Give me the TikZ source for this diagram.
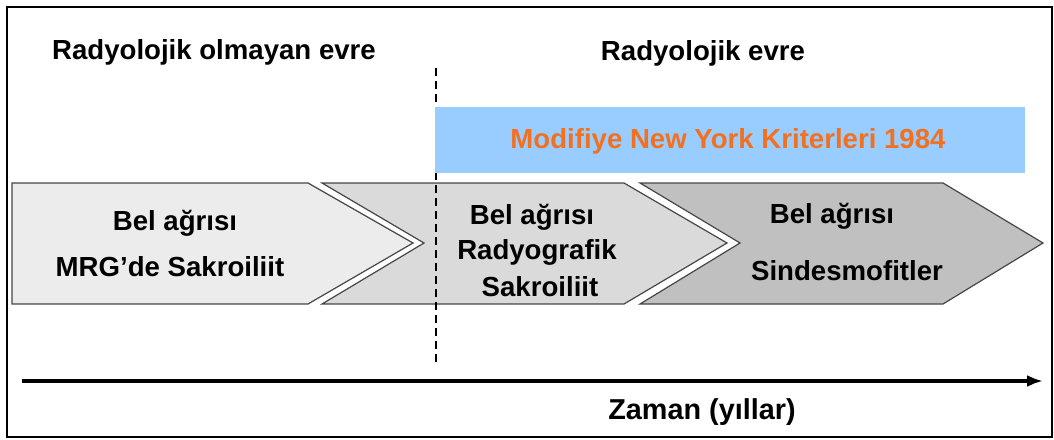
\documentclass[tikz,border=0pt]{standalone}
\usepackage{fontspec}
\setmainfont{Liberation Sans}
\usetikzlibrary{positioning, arrows.meta}
\definecolor{phaseA}{RGB}{236,236,236}
\definecolor{phaseB}{RGB}{218,218,218}
\definecolor{phaseC}{RGB}{192,192,192}
\definecolor{phaseLine}{RGB}{70,70,70}
\definecolor{criteriaBlue}{RGB}{153,204,255}
\definecolor{criteriaOrange}{RGB}{242,113,33}

\begin{document}
\begin{tikzpicture}[x=0.5pt, y=-0.5pt, font=\bfseries\fontsize{13.8}{16}\selectfont]
        % Setup the styles for the phases and the labels
        \tikzset{phase style/.style={draw=phaseLine,
                                     line width=0.6pt,
                                     line join=miter},
                 text style/.style={inner sep=0pt,
                                    anchor=base}}

        \useasboundingbox (0,0) rectangle (1054,439);

        % Frame
        \draw[line width=1.2pt] (7,7) rectangle (1052,437);

        % Draw the phases
        \draw[phase style, fill=phaseA]
            (12,183) -- (308,183) -- (413,243) -- (308,304) -- (12,304) -- cycle;
        \draw[phase style, fill=phaseB]
            (322,183) -- (624,183) -- (727,243) -- (624,304) -- (322,304) -- (424,243) -- cycle;
        \draw[phase style, fill=phaseC]
            (640,183) -- (943,183) -- (1043,243) -- (943,304) -- (640,304) -- (740,243) -- cycle;

        % Border between the two stages
        \coordinate (cut top) at (436,68);
        \coordinate (cut bottom) at (436,363);
        \draw[line width=1pt, dash pattern=on 4pt off 2.5pt] (cut top) -- (cut bottom);

        % Criteria box
        \node[fill=criteriaBlue, minimum width=295pt, minimum height=33pt,
              inner sep=0pt, anchor=north west] (criteria) at (435,107) {};
        \node[text style, text=criteriaOrange] (criteria text) at (728,148)
            {Modifiye New York Kriterleri 1984};

        % Stage headings
        \node[text style] (non radiologic) at (214,59) {Radyolojik olmayan evre};
        \node[text style] (radiologic)     at (703,60) {Radyolojik evre};

        % Phase labels
        \node[text style] (pain a)   at (175,230) {Bel ağrısı};
        \node[text style] (mri)      at (170,276) {MRG’de Sakroiliit};
        \node[text style] (pain b)   at (532,224) {Bel ağrısı};
        \node[text style] (xray)     at (537,259) {Radyografik};
        \node[text style] (sacro)    at (540,296) {Sakroiliit};
        \node[text style] (pain c)   at (832,223) {Bel ağrısı};
        \node[text style] (syndesmo) at (847,280) {Sindesmofitler};

        % Time axis
        \coordinate (time start) at (22,381);
        \coordinate (time end)   at (1043,381);
        \draw[line width=2pt, -{Latex[length=8pt, width=6pt]}] (time start) -- (time end);
        \node[text style, font=\bfseries\fontsize{14.4}{16}\selectfont] (time) at (702,419)
            {Zaman (yıllar)};
    \end{tikzpicture}
\end{document}
